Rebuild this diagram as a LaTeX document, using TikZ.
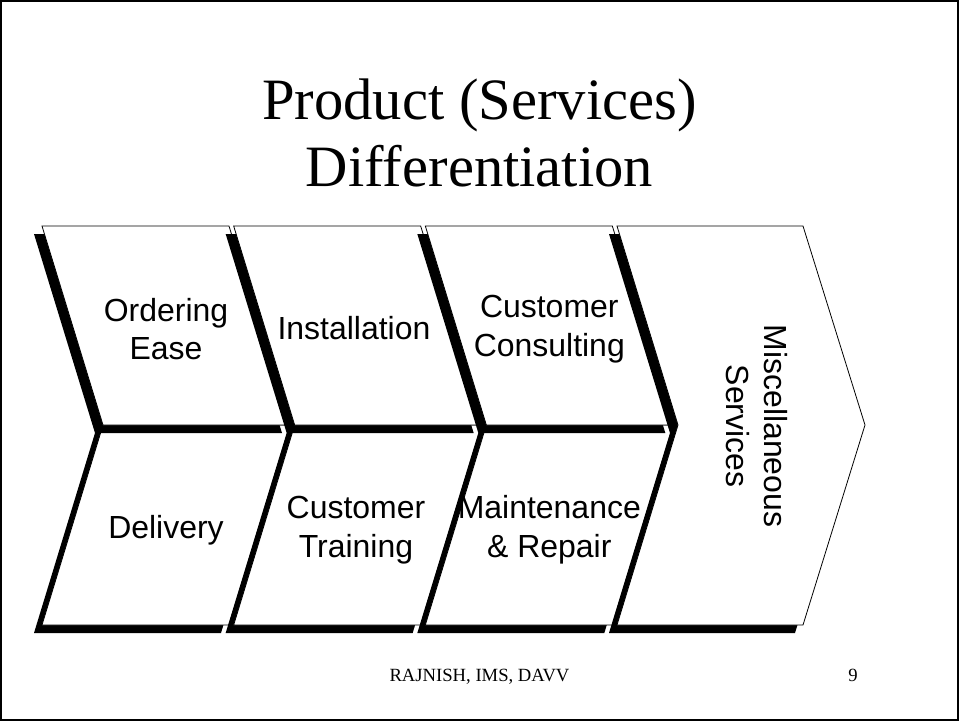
\documentclass[tikz,border=0pt]{standalone}
\usepackage{fontspec}
\setmainfont{Liberation Serif}
\newfontfamily\labelfont{Liberation Sans}
\begin{document}
\begin{tikzpicture}[x=0.75078pt,y=-0.75078pt,
  panel/.style={fill=white,draw=black,line width=0.6pt,line join=miter},
  drop/.style={fill=black,shift={(-8,8)}},
  lbl/.style={font=\labelfont\fontsize{24}{29}\selectfont,align=center,inner sep=0pt},
]
\useasboundingbox (0,0) rectangle (959,721);
\fill[white] (0,0) rectangle (959,721);
\draw[line width=1.5pt] (1,1) rectangle (958,720);

% title
\node[font=\fontsize{44}{51}\selectfont, anchor=base] (title1) at (479.5,119) {Product (Services)};
\node[font=\fontsize{44}{51}\selectfont, anchor=base] (title2) at (479.5,186) {Differentiation};

% three columns of slanted panels, each with a drop shadow
\foreach \x in {42, 233.67, 425.33} {
  \fill[drop] (\x+61,425) -- (\x+248,425) -- (\x+187,625) -- (\x,625) -- cycle;
  \draw[panel] (\x+61,425) -- (\x+248,425) -- (\x+187,625) -- (\x,625) -- cycle;
  \fill[drop] (\x,226) -- (\x+187,226) -- (\x+248,425) -- (\x+61,425) -- cycle;
  \draw[panel] (\x,226) -- (\x+187,226) -- (\x+248,425) -- (\x+61,425) -- cycle;
}

% closing chevron
\fill[drop] (617,226) -- (803,226) -- (865,425) -- (803,625) -- (617,625) -- (678,425) -- cycle;
\draw[panel] (617,226) -- (803,226) -- (865,425) -- (803,625) -- (617,625) -- (678,425) -- cycle;

% panel labels
\node[lbl] (ordering) at (166,329) {Ordering\\Ease};
\node[lbl] (installation) at (354,328) {Installation};
\node[lbl] (consulting) at (549.3,329) {Customer\\Consulting};
\node[lbl] (delivery) at (166,530) {Delivery};
\node[lbl] (training) at (356,530) {Customer\\Training};
\node[lbl] (maintenance) at (549.3,530) {Maintenance\\\& Repair};
\node[lbl, rotate=-90] (misc) at (757,426) {Miscellaneous\\Services};

% footer
\node[font=\fontsize{14}{16}\selectfont, anchor=base] (footer) at (479.5,681) {RAJNISH, IMS, DAVV};
\node[font=\fontsize{14}{16}\selectfont, anchor=base] (pagenum) at (853,681) {9};
\end{tikzpicture}
\end{document}
